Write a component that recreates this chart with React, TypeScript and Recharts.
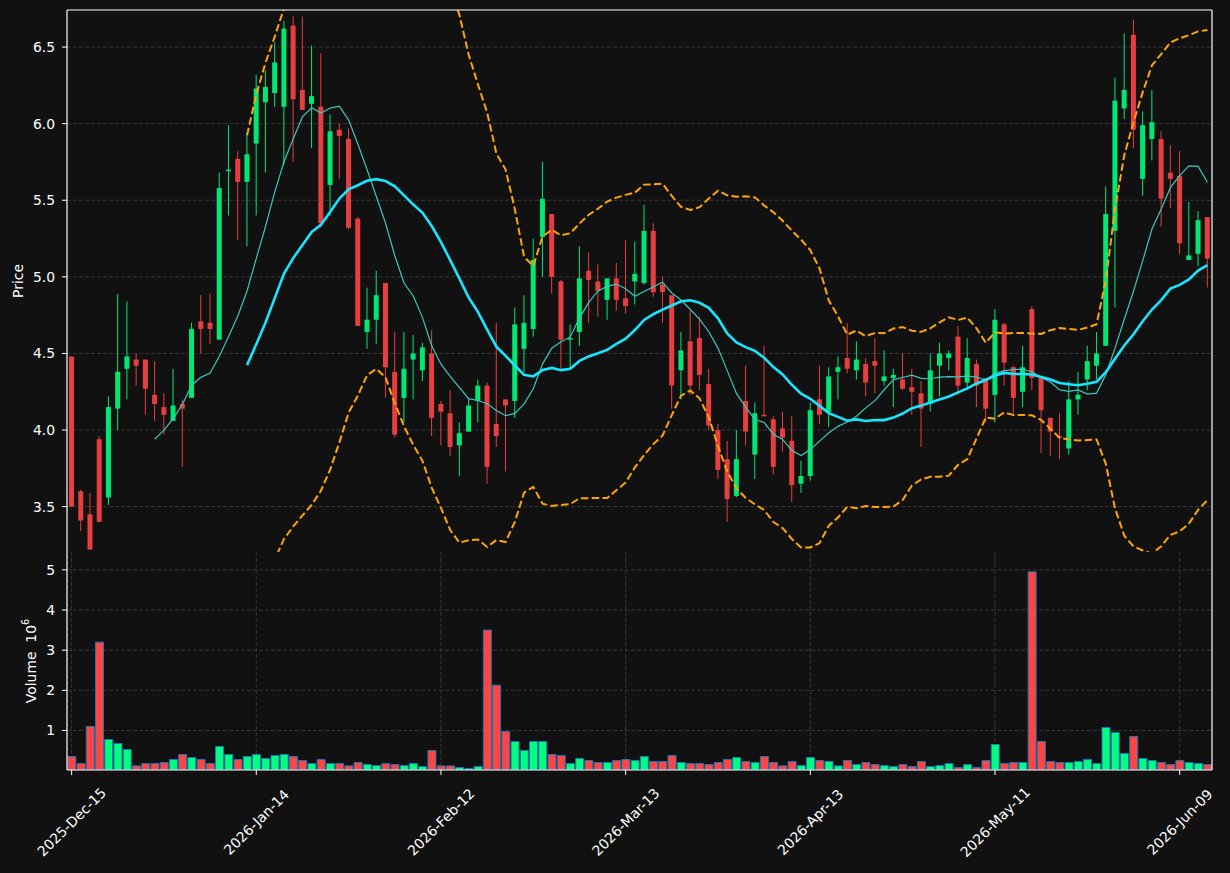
import React from 'react';
import { ComposedChart, Bar, Line, XAxis, YAxis, CartesianGrid, Cell } from 'recharts';

const tickIndex = [0, 20, 40, 60, 80, 100, 120];
const tickLabels = ['2025-Dec-15', '2026-Jan-14', '2026-Feb-12', '2026-Mar-13', '2026-Apr-13', '2026-May-11', '2026-Jun-09'];

const opens = [
  4.48, 3.60, 3.45, 3.94, 3.56, 4.14, 4.40, 4.46, 4.46, 4.23,
  4.15, 4.06, 4.17, 4.21, 4.71, 4.70, 4.59, 5.69, 5.77, 5.62,
  5.87, 6.14, 6.20, 6.11, 6.64, 6.22, 6.13, 6.11, 5.60, 5.96,
  5.90, 5.38, 4.64, 4.72, 4.96, 4.38, 4.21, 4.46, 4.39, 4.50,
  4.17, 4.11, 3.90, 3.99, 4.19, 4.29, 4.04, 4.20, 4.19, 4.53,
  4.66, 5.26, 5.41, 4.97, 4.59, 4.64, 5.04, 4.97, 4.85, 4.99,
  4.86, 4.97, 4.96, 5.30, 4.95, 4.88, 4.39, 4.58, 4.60, 4.30,
  4.00, 3.81, 3.57, 4.19, 3.84, 4.10, 4.07, 4.01, 3.93, 3.65,
  3.70, 4.20, 4.12, 4.38, 4.47, 4.39, 4.43, 4.45, 4.32, 4.34,
  4.33, 4.28, 4.24, 4.17, 4.42, 4.47, 4.61, 4.31, 4.43, 4.34,
  4.23, 4.69, 4.41, 4.25, 4.79, 4.34, 4.08, 3.96, 3.88, 4.20,
  4.33, 4.42, 4.55, 5.30, 6.10, 6.58, 5.64, 5.90, 5.90, 5.68,
  5.66, 5.11, 5.15, 5.39,
];
const highs = [
  4.48, 3.61, 3.59, 3.96, 4.22, 4.89, 4.84, 4.50, 4.46, 4.45,
  4.24, 4.40, 4.20, 4.70, 4.88, 4.89, 5.68, 5.99, 5.82, 5.94,
  6.32, 6.35, 6.53, 6.67, 6.70, 6.70, 6.51, 6.46, 6.06, 6.00,
  5.97, 5.39, 4.93, 5.04, 4.96, 4.64, 4.64, 4.62, 4.57, 4.65,
  4.19, 4.26, 4.05, 4.21, 4.33, 4.31, 4.70, 4.20, 4.80, 4.88,
  5.25, 5.75, 5.41, 4.98, 4.69, 5.20, 5.16, 5.08, 4.99, 5.09,
  5.24, 5.23, 5.47, 5.35, 5.00, 4.88, 4.64, 4.78, 4.74, 4.40,
  4.04, 3.93, 4.00, 4.42, 4.18, 4.55, 4.09, 4.12, 4.09, 3.80,
  4.18, 4.42, 4.41, 4.48, 4.70, 4.58, 4.47, 4.60, 4.52, 4.40,
  4.50, 4.40, 4.32, 4.50, 4.57, 4.52, 4.68, 4.60, 4.46, 4.34,
  4.79, 4.70, 4.42, 4.55, 4.81, 4.35, 4.08, 4.11, 4.32, 4.38,
  4.55, 4.64, 5.59, 6.30, 6.59, 6.68, 6.08, 6.22, 5.95, 5.86,
  5.82, 5.49, 5.43, 5.39,
];
const lows = [
  3.50, 3.34, 3.22, 3.40, 3.51, 4.00, 4.20, 4.29, 4.10, 4.06,
  3.97, 4.06, 3.76, 4.21, 4.50, 4.56, 4.59, 5.40, 5.24, 5.20,
  5.40, 5.68, 6.11, 5.73, 5.75, 6.09, 5.84, 5.32, 5.40, 5.64,
  5.31, 4.68, 4.53, 4.56, 4.21, 3.95, 4.05, 4.20, 4.32, 3.96,
  3.90, 3.83, 3.70, 3.99, 4.05, 3.65, 3.89, 3.73, 4.08, 4.38,
  4.61, 5.00, 4.89, 4.40, 4.39, 4.55, 4.70, 4.74, 4.72, 4.78,
  4.76, 4.82, 4.95, 4.87, 4.70, 4.14, 4.20, 4.23, 4.26, 4.00,
  3.68, 3.40, 3.56, 3.90, 3.68, 4.09, 3.71, 3.86, 3.53, 3.59,
  3.67, 4.04, 4.02, 4.20, 4.37, 4.33, 4.22, 4.24, 4.29, 4.15,
  4.26, 4.10, 3.89, 4.12, 4.22, 4.39, 4.23, 4.26, 4.15, 4.05,
  4.05, 4.29, 4.11, 4.15, 4.26, 3.85, 3.83, 3.81, 3.84, 4.10,
  4.26, 4.33, 4.55, 4.80, 6.03, 5.84, 5.53, 5.76, 5.33, 5.45,
  5.15, 5.11, 5.07, 4.93,
];
const closes = [
  3.50, 3.41, 3.22, 3.40, 4.15, 4.38, 4.48, 4.42, 4.27, 4.17,
  4.10, 4.16, 4.14, 4.66, 4.66, 4.66, 5.58, 5.70, 5.62, 5.80,
  6.23, 6.24, 6.40, 6.62, 6.16, 6.09, 6.18, 5.35, 5.95, 5.92,
  5.32, 4.68, 4.72, 4.88, 4.41, 3.97, 4.40, 4.50, 4.54, 4.08,
  4.12, 3.89, 3.98, 4.16, 4.29, 3.76, 3.96, 4.16, 4.69, 4.70,
  5.11, 5.51, 5.00, 4.59, 4.60, 4.99, 4.98, 4.91, 4.99, 4.85,
  4.81, 5.02, 5.30, 4.90, 4.90, 4.29, 4.52, 4.29, 4.36, 4.03,
  3.74, 3.55, 3.81, 3.99, 4.11, 4.09, 3.76, 3.95, 3.64, 3.70,
  4.13, 4.10, 4.35, 4.41, 4.40, 4.46, 4.31, 4.42, 4.35, 4.36,
  4.27, 4.25, 4.14, 4.39, 4.50, 4.50, 4.29, 4.47, 4.29, 4.14,
  4.72, 4.44, 4.21, 4.41, 4.34, 4.13, 3.99, 3.95, 4.20, 4.23,
  4.45, 4.50, 5.41, 6.15, 6.22, 5.96, 5.99, 6.01, 5.51, 5.64,
  5.22, 5.14, 5.37, 5.12,
];
// volume in millions
const volumes = [
  0.35, 0.175, 1.10, 3.20, 0.775, 0.675, 0.525, 0.117, 0.175, 0.175,
  0.20, 0.275, 0.40, 0.325, 0.275, 0.175, 0.60, 0.40, 0.275, 0.35,
  0.40, 0.30, 0.375, 0.40, 0.35, 0.25, 0.175, 0.275, 0.175, 0.175,
  0.117, 0.20, 0.15, 0.125, 0.175, 0.15, 0.125, 0.175, 0.10, 0.50,
  0.117, 0.117, 0.075, 0.05, 0.10, 3.50, 2.125, 0.975, 0.725, 0.50,
  0.725, 0.725, 0.40, 0.375, 0.175, 0.30, 0.25, 0.20, 0.20, 0.25,
  0.275, 0.25, 0.35, 0.225, 0.225, 0.375, 0.20, 0.175, 0.175, 0.15,
  0.20, 0.275, 0.325, 0.225, 0.20, 0.35, 0.20, 0.117, 0.225, 0.125,
  0.325, 0.25, 0.225, 0.117, 0.25, 0.15, 0.20, 0.15, 0.125, 0.10,
  0.15, 0.10, 0.225, 0.10, 0.125, 0.175, 0.075, 0.15, 0.075, 0.25,
  0.65, 0.175, 0.20, 0.20, 4.95, 0.725, 0.225, 0.20, 0.20, 0.225,
  0.275, 0.175, 1.075, 0.95, 0.425, 0.85, 0.30, 0.25, 0.20, 0.15,
  0.25, 0.20, 0.175, 0.15,
];

const priceTicks = [3.5, 4.0, 4.5, 5.0, 5.5, 6.0, 6.5];
const volumeTicks = [1, 2, 3, 4, 5];

// indicators derived from the closes (10/20-period moving averages, 20-period 2σ bands)
const windowStats = (i: number, n: number) => {
  if (i < n - 1) return null;
  const w = closes.slice(i - n + 1, i + 1);
  const m = w.reduce((a, b) => a + b, 0) / n;
  const sd = Math.sqrt(w.reduce((a, b) => a + (b - m) * (b - m), 0) / n);
  return { m, sd };
};

const data = closes.map((c, i) => {
  const s10 = windowStats(i, 10);
  const s20 = windowStats(i, 20);
  return {
    i,
    o: opens[i],
    h: highs[i],
    l: lows[i],
    c,
    v: volumes[i],
    up: c >= opens[i],
    range: [lows[i], highs[i]],
    ma10: s10 ? s10.m : null,
    ma20: s20 ? s20.m : null,
    bbU: s20 ? s20.m + 2 * s20.sd : null,
    bbL: s20 ? s20.m - 2 * s20.sd : null,
  };
});

const BG = '#111111';
const UP = '#00e774';
const DOWN = '#e73f3f';
const VUP = '#00ff7f';
const VDOWN = '#ff4444';
const FONT = 'DejaVu Sans, sans-serif';
const FS = 13.9;
const GRID = '#3d3d3d';
const SPINE = { stroke: '#ffffff', strokeWidth: 1.2 };

const Candle = (props: any) => {
  const { x, y, width, height, payload } = props;
  if (x == null || y == null || !payload) return null;
  const { o, h, l, c, up } = payload;
  const cx = x + width / 2;
  const top = Math.min(y, y + height);
  const bot = Math.max(y, y + height);
  const per = h - l > 0 ? (bot - top) / (h - l) : 0;
  const yOf = (v: number) => top + (h - v) * per;
  const yo = yOf(o);
  const yc = yOf(c);
  const bTop = Math.min(yo, yc);
  const bH = Math.max(1, Math.abs(yo - yc));
  const col = up ? UP : DOWN;
  const bw = 5;
  return (
    <g>
      <line x1={cx} x2={cx} y1={top} y2={bot} stroke={col} strokeWidth={1} />
      <rect x={cx - bw / 2} y={bTop} width={bw} height={bH} fill={col} />
    </g>
  );
};

const XTick = (props: any) => {
  const { x, y, payload } = props;
  const k = tickIndex.indexOf(Number(payload.value));
  if (k < 0) return null;
  const cy = y + 45;
  return (
    <text
      x={x}
      y={cy}
      transform={`rotate(-45 ${x} ${cy})`}
      textAnchor="middle"
      dominantBaseline="central"
      fill="#ffffff"
      fontSize={FS}
      fontFamily={FONT}
    >
      {tickLabels[k]}
    </text>
  );
};

const PriceLabel = (props: any) => {
  const vb = props.viewBox || { x: 0, y: 0, width: 0, height: 0 };
  const cx = vb.x + 18;
  const cy = vb.y + vb.height / 2;
  return (
    <text
      x={cx}
      y={cy}
      transform={`rotate(-90 ${cx} ${cy})`}
      textAnchor="middle"
      dominantBaseline="central"
      fill="#ffffff"
      fontSize={FS}
      fontFamily={FONT}
    >
      Price
    </text>
  );
};

const VolumeLabel = (props: any) => {
  const vb = props.viewBox || { x: 0, y: 0, width: 0, height: 0 };
  const cx = vb.x + 31;
  const cy = vb.y + vb.height / 2;
  return (
    <text
      x={cx}
      y={cy}
      transform={`rotate(-90 ${cx} ${cy})`}
      textAnchor="middle"
      dominantBaseline="central"
      fill="#ffffff"
      fontSize={FS}
      fontFamily={FONT}
      xmlSpace="preserve"
      style={{ whiteSpace: 'pre' }}
    >
      {'Volume  10'}
      <tspan dy={-6} fontSize={9.7}>6</tspan>
    </text>
  );
};

const tickStyle = { fill: '#ffffff', fontSize: FS, fontFamily: FONT };

export default function App() {
  return (
    <div style={{ position: 'absolute', left: 0, top: 0, width: 1230, height: 873, background: BG }}>
      <div style={{ position: 'absolute', left: 0, top: 0 }}>
        <ComposedChart
          width={1230}
          height={552}
          data={data}
          margin={{ top: 9, right: 17, bottom: 0, left: 0 }}
          barCategoryGap={0}
        >
          <CartesianGrid stroke={GRID} strokeDasharray="4 2" strokeWidth={0.8} syncWithTicks />
          <XAxis
            dataKey="i"
            type="category"
            ticks={tickIndex}
            interval={0}
            height={0}
            tick={false}
            tickLine={false}
            axisLine={SPINE}
          />
          <XAxis
            xAxisId="top"
            dataKey="i"
            type="category"
            orientation="top"
            height={1}
            tick={false}
            tickLine={false}
            axisLine={SPINE}
          />
          <YAxis
            type="number"
            domain={[3.204, 6.742]}
            allowDataOverflow
            ticks={priceTicks}
            tickFormatter={(v: number) => v.toFixed(1)}
            width={67}
            tickSize={5}
            tickMargin={7}
            tick={tickStyle}
            tickLine={{ stroke: '#ffffff' }}
            axisLine={SPINE}
            label={<PriceLabel />}
          />
          <YAxis
            yAxisId="r"
            type="number"
            orientation="right"
            domain={[3.204, 6.742]}
            allowDataOverflow
            width={1}
            tick={false}
            tickLine={false}
            axisLine={SPINE}
          />
          <Bar dataKey="range" shape={<Candle />} isAnimationActive={false} />
          <Line type="linear" dataKey="ma10" stroke="#3cc7bd" strokeWidth={1.2} dot={false} activeDot={false} isAnimationActive={false} connectNulls={false} />
          <Line type="linear" dataKey="ma20" stroke="#18e6ff" strokeWidth={2.6} dot={false} activeDot={false} isAnimationActive={false} connectNulls={false} />
          <Line type="linear" dataKey="bbU" stroke="#ffa500" strokeWidth={2} strokeDasharray="7.5 3.3" dot={false} activeDot={false} isAnimationActive={false} connectNulls={false} />
          <Line type="linear" dataKey="bbL" stroke="#ffa500" strokeWidth={2} strokeDasharray="7.5 3.3" dot={false} activeDot={false} isAnimationActive={false} connectNulls={false} />
          <Line xAxisId="top" yAxisId="r" type="linear" dataKey="c" stroke="none" strokeWidth={0} dot={false} activeDot={false} isAnimationActive={false} legendType="none" />
        </ComposedChart>
      </div>
      <div style={{ position: 'absolute', left: 0, top: 552 }}>
        <ComposedChart
          width={1230}
          height={321}
          data={data}
          margin={{ top: 0, right: 17, bottom: 0, left: 0 }}
          barCategoryGap="9%"
        >
          <CartesianGrid stroke={GRID} strokeDasharray="4 2" strokeWidth={0.8} syncWithTicks />
          <XAxis
            dataKey="i"
            type="category"
            ticks={tickIndex}
            interval={0}
            height={103}
            tickSize={5}
            tick={<XTick />}
            tickLine={{ stroke: '#ffffff' }}
            axisLine={SPINE}
          />
          <YAxis
            type="number"
            domain={[0.015, 5.445]}
            allowDataOverflow
            ticks={volumeTicks}
            width={67}
            tickSize={5}
            tickMargin={7}
            tick={tickStyle}
            tickLine={{ stroke: '#ffffff' }}
            axisLine={SPINE}
            label={<VolumeLabel />}
          />
          <YAxis
            yAxisId="r"
            type="number"
            orientation="right"
            domain={[0.015, 5.445]}
            allowDataOverflow
            width={1}
            tick={false}
            tickLine={false}
            axisLine={SPINE}
          />
          <Bar dataKey="v" stroke="#1f77b4" strokeWidth={1} isAnimationActive={false}>
            {data.map((d) => (
              <Cell key={d.i} fill={d.up ? VUP : VDOWN} />
            ))}
          </Bar>
          <Line yAxisId="r" type="linear" dataKey="v" stroke="none" strokeWidth={0} dot={false} activeDot={false} isAnimationActive={false} legendType="none" />
        </ComposedChart>
      </div>
    </div>
  );
}
